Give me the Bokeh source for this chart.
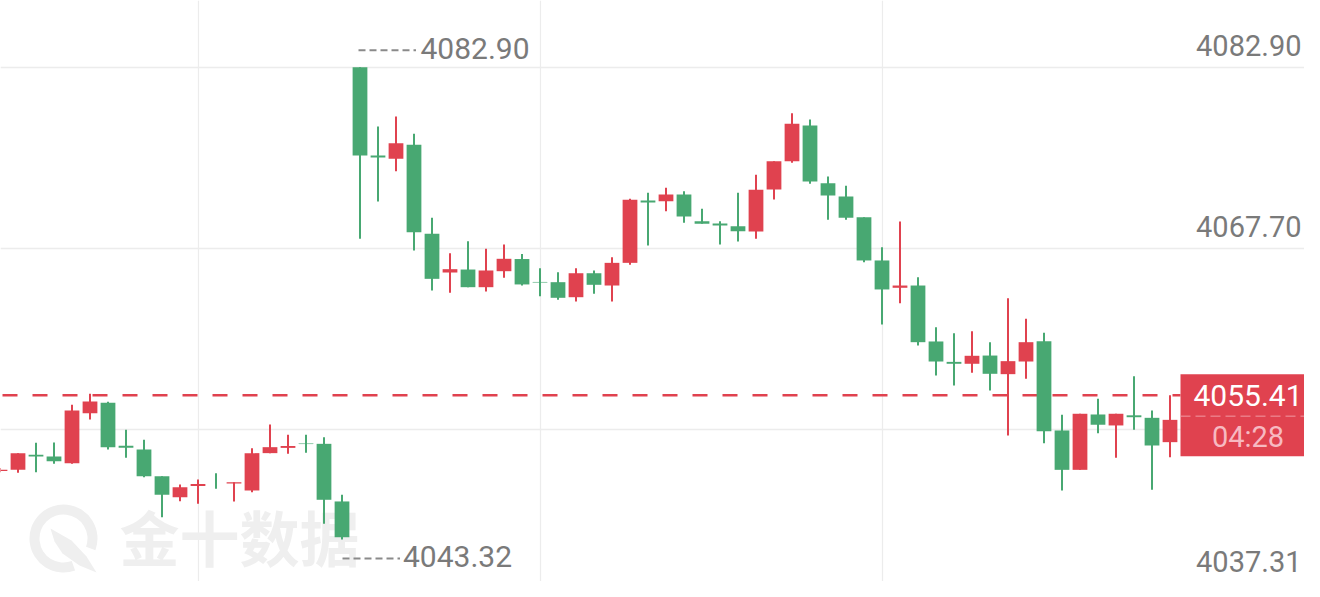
import numpy as np
from bokeh.plotting import figure
from bokeh.models import Range1d, Grid, FixedTicker
from bokeh.core.properties import value
from bokeh.embed import file_html
from bokeh.resources import INLINE

# ---------------- data ----------------
opens = [4049.05, 4049.15, 4050.42, 4050.27, 4049.71, 4053.90, 4054.77, 4051.16, 4050.86, 4048.62,
         4046.86, 4047.80, 4048.26, 4048.00, 4047.42, 4050.55, 4050.99, 4051.36, 4051.33, 4046.50,
         4082.90, 4075.50, 4075.22, 4076.40, 4068.94, 4065.69, 4065.94, 4064.46, 4065.80, 4066.82,
         4064.90, 4064.88, 4063.62, 4065.63, 4064.60, 4066.50, 4071.72, 4071.67, 4072.23, 4069.99,
         4069.80, 4069.57, 4069.13, 4072.65, 4075.02, 4078.01, 4073.18, 4072.06, 4070.33, 4066.70,
         4064.41, 4064.60, 4059.91, 4058.20, 4058.04, 4058.73, 4057.17, 4058.23, 4059.93, 4052.45,
         4049.15, 4053.79, 4052.87, 4053.72, 4053.51, 4051.47]
highs = [4049.30, 4050.55, 4051.42, 4051.44, 4054.60, 4055.52, 4054.85, 4052.51, 4051.67, 4048.62,
         4047.92, 4048.34, 4048.87, 4048.12, 4050.96, 4052.95, 4052.09, 4052.09, 4051.89, 4047.06,
         4082.90, 4077.93, 4078.77, 4077.32, 4070.28, 4067.31, 4068.32, 4067.68, 4068.04, 4067.24,
         4066.05, 4065.72, 4066.05, 4065.86, 4066.97, 4071.87, 4072.37, 4072.79, 4072.51, 4071.03,
         4069.99, 4072.37, 4073.88, 4075.02, 4079.04, 4078.52, 4073.74, 4072.96, 4070.33, 4067.81,
         4069.97, 4065.30, 4061.11, 4060.60, 4060.77, 4059.85, 4063.54, 4061.81, 4060.64, 4053.76,
         4053.85, 4055.10, 4053.85, 4057.00, 4054.12, 4055.41]
lows = [4048.95, 4048.90, 4048.95, 4049.66, 4049.66, 4053.37, 4050.86, 4050.16, 4048.53, 4045.18,
        4046.52, 4046.30, 4047.56, 4046.50, 4047.28, 4050.55, 4050.49, 4050.58, 4044.63, 4043.32,
        4068.52, 4071.64, 4074.18, 4067.54, 4064.18, 4063.99, 4064.46, 4064.10, 4065.25, 4064.60,
        4063.70, 4063.40, 4063.26, 4063.91, 4063.26, 4066.34, 4067.96, 4070.83, 4069.86, 4069.77,
        4068.04, 4068.29, 4068.52, 4071.81, 4074.89, 4073.13, 4070.11, 4070.11, 4066.56, 4061.33,
        4063.12, 4059.57, 4057.06, 4056.22, 4057.28, 4055.80, 4052.03, 4056.78, 4051.38, 4047.42,
        4049.15, 4052.22, 4050.16, 4052.51, 4047.48, 4050.21]
closes = [4049.15, 4050.55, 4050.26, 4049.87, 4054.12, 4054.88, 4051.05, 4051.00, 4048.62, 4047.06,
          4047.69, 4047.96, 4048.25, 4048.12, 4050.55, 4051.05, 4051.15, 4051.31, 4046.64, 4043.50,
          4075.50, 4075.34, 4076.53, 4069.07, 4065.16, 4065.97, 4064.46, 4065.86, 4066.84, 4064.69,
          4064.85, 4063.57, 4065.63, 4064.66, 4066.50, 4071.79, 4071.56, 4072.23, 4070.39, 4069.77,
          4069.64, 4069.15, 4072.62, 4075.02, 4078.16, 4073.32, 4072.15, 4070.28, 4066.70, 4064.27,
          4064.60, 4059.85, 4058.23, 4058.04, 4058.71, 4057.20, 4058.26, 4059.85, 4052.39, 4049.15,
          4053.85, 4052.93, 4053.85, 4053.56, 4051.19, 4053.34]
y_ticks = [4082.90, 4067.70, 4052.50, 4037.31]
y_tick_labels = ["4082.90", "4067.70", "4052.50", "4037.31"]
x_grid_index = [11, 30, 49]
last_price = 4055.41
last_price_label = "4055.41"
countdown_label = "04:28"
watermark_text = "金十数据"

# ---------------- styles ----------------
RED = "#e0424f"
GREEN = "#48a872"
GRID = "#ececec"
TEXT_GRAY = "#7a7a7a"
WM = "#efefef"
FONT = "Roboto"

W, H = 1304, 581
PX_X = 18.0          # pixels per candle slot
PX_Y = 11.93         # pixels per price unit
X0 = 0.5 / PX_X
X1 = X0 + W / PX_X
Y1 = 4082.90 + 66.7 / PX_Y
Y0 = Y1 - H / PX_Y
pxx = W / (X1 - X0)
pxy = H / (Y1 - Y0)

def dx(px):
    return X0 + px / pxx

def dy(py):
    return Y1 - py / pxy

o = np.array(opens); c = np.array(closes)
h = np.array(highs); l = np.array(lows)
idx = np.arange(len(o))
cols = np.where(c > o, RED, GREEN)

p = figure(width=W, height=H, x_range=Range1d(X0, X1), y_range=Range1d(Y0, Y1),
           x_axis_type=None, y_axis_type=None, toolbar_location=None,
           output_backend="svg", min_border=0, outline_line_color=None,
           background_fill_color="white", border_fill_color="white")

p.add_layout(Grid(dimension=0, ticker=FixedTicker(ticks=x_grid_index),
                  grid_line_color=GRID, grid_line_width=1.2))
p.add_layout(Grid(dimension=1, ticker=FixedTicker(ticks=y_ticks),
                  grid_line_color=GRID, grid_line_width=1.5))

# watermark (logo + text)
p.annular_wedge(x=[dx(63)], y=[dy(538)], inner_radius=24, outer_radius=34,
                inner_radius_units="screen", outer_radius_units="screen",
                start_angle=np.deg2rad(-20), end_angle=np.deg2rad(290),
                fill_color=WM, line_color=None)
leaf = [(50, 528), (71, 540), (86, 556), (96, 572), (79, 565), (62, 553), (54, 541)]
p.patch(x=[dx(a) for a, b in leaf], y=[dy(b) for a, b in leaf], fill_color=WM, line_color=None)
p.text(x=[dx(119)], y=[dy(535)], text=[watermark_text], text_font=value("Noto Sans CJK SC"),
       text_font_style="bold", text_font_size="60px", text_color=WM,
       text_baseline="middle", text_align="left")

# last price dashed line (stops at the price box)
box_left = idx[-1] + 10.5 / pxx
p.segment(x0=[dx(2)], x1=[box_left], y0=[last_price], y1=[last_price],
          line_color=RED, line_width=2.5, line_dash="15 15")

# candles
p.segment(x0=idx, x1=idx, y0=l, y1=h, line_color=cols, line_width=2)
p.vbar(x=idx, width=0.82, top=np.maximum(o, c), bottom=np.minimum(o, c),
       fill_color=cols, line_color=None)

# axis labels inside the plot, right aligned above grid lines (kept inside the frame)
label_y = [max(t + 22 / pxy, Y0 + 20 / pxy) for t in y_ticks]
p.text(x=[X1 - 3 / pxx] * len(y_ticks), y=label_y, text=y_tick_labels,
       text_font=value(FONT), text_font_size="29px", text_color=TEXT_GRAY,
       text_align="right", text_baseline="middle")

# max / min markers
imax = int(np.argmax(h)); imin = int(np.argmin(l))
ymx = h[imax] + 17 / pxy
p.segment(x0=[imax - 1.5 / pxx], x1=[imax + 56 / pxx], y0=[ymx], y1=[ymx],
          line_color="#8a8a8a", line_width=2, line_dash="7 4")
p.text(x=[imax + 60.5 / pxx], y=[h[imax] + 19 / pxy], text=[f"{h[imax]:.2f}"],
       text_font=value(FONT), text_font_size="30px", text_color=TEXT_GRAY,
       text_align="left", text_baseline="middle")
ymn = l[imin] - 19 / pxy
p.segment(x0=[imin + 0.5 / pxx], x1=[imin + 58 / pxx], y0=[ymn], y1=[ymn],
          line_color="#8a8a8a", line_width=2, line_dash="7 4")
p.text(x=[imin + 61 / pxx], y=[l[imin] - 17 / pxy], text=[f"{l[imin]:.2f}"],
       text_font=value(FONT), text_font_size="30px", text_color=TEXT_GRAY,
       text_align="left", text_baseline="middle")

# price box
p.quad(left=[box_left], right=[X1 + 1], top=[last_price + 21 / pxy], bottom=[last_price - 61 / pxy],
       fill_color=RED, line_color=None)
p.segment(x0=[box_left], x1=[X1 + 1], y0=[last_price - 21 / pxy], y1=[last_price - 21 / pxy],
          line_color="#f19aa4", line_width=1, line_dash="10 5")
bx = box_left + 67.5 / pxx
p.text(x=[bx], y=[last_price], text=[last_price_label], text_font=value(FONT),
       text_font_size="30px", text_color="white", text_align="center", text_baseline="middle")
p.text(x=[bx], y=[last_price - 42 / pxy], text=[countdown_label], text_font=value(FONT),
       text_font_size="29px", text_color="#f7b9c1", text_align="center", text_baseline="middle")

open("out.html", "w").write(file_html(p, INLINE, title="chart"))
